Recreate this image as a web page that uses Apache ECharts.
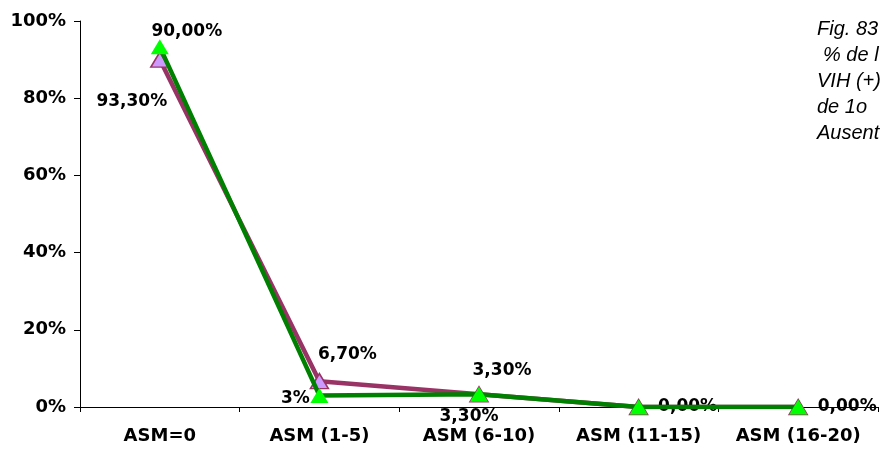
<!DOCTYPE html>
<html>
<head>
<meta charset="utf-8">
<script src="https://cdn.jsdelivr.net/npm/echarts@6/dist/echarts.min.js"></script>
<style>html,body{margin:0;padding:0;background:#fff}#c{width:881px;height:452px}</style>
</head>
<body>
<div id="c"></div>
<script>
// ---- data ----
var categories = ['ASM=0', 'ASM (1-5)', 'ASM (6-10)', 'ASM (11-15)', 'ASM (16-20)'];
var purpleValues = [90, 6.7, 3.3, 0, 0];
var greenValues = [93.3, 3, 3.3, 0, 0];
var purpleLabels = ['90,00%', '6,70%', '3,30%', '0,00%', '0,00%'];
var greenLabels = ['93,30%', '3%', '3,30%', '', ''];
var yTicks = [0, 20, 40, 60, 80, 100];
var titleLines = ['Fig. 83', '% de l', 'VIH (+)', 'de 1o', 'Ausent'];

// ---- styling ----
var purpleOffsets = [[27, -28], [28, -27], [23, -24], [49, 0], [49, 0]];
var greenOffsets = [[-28, 55], [-24, 3], [-10, 22], [49, 0], [49, 0]];
var titleX = [817, 823, 817, 817, 817];
var labelFont = { fontFamily: 'DejaVu Sans', fontWeight: 'bold', fontSize: 17, color: '#000' };

function buildData(values, labels, offsets) {
  return values.map(function (v, i) {
    return {
      value: v,
      label: {
        show: labels[i] !== '',
        position: 'inside',
        offset: offsets[i],
        formatter: labels[i]
      }
    };
  });
}

var chart = echarts.init(document.getElementById('c'), null, { renderer: 'canvas' });
chart.setOption({
  animation: false,
  backgroundColor: '#fff',
  grid: { left: 80, right: 3, top: 21, bottom: 45 },
  xAxis: {
    type: 'category',
    data: categories,
    boundaryGap: true,
    axisLine: { lineStyle: { color: '#000', width: 1 } },
    axisTick: { show: true, length: 5, inside: false, interval: 0, lineStyle: { color: '#000' } },
    axisLabel: { interval: 0, margin: 20, fontFamily: 'DejaVu Sans', fontWeight: 'bold', fontSize: 18, color: '#000' },
    splitLine: { show: false }
  },
  yAxis: {
    type: 'value',
    min: yTicks[0],
    max: yTicks[yTicks.length - 1],
    interval: yTicks[1] - yTicks[0],
    axisLine: { show: true, lineStyle: { color: '#000', width: 1 } },
    axisTick: { show: true, length: 6, lineStyle: { color: '#000' } },
    axisLabel: { margin: 14, fontFamily: 'DejaVu Sans', fontWeight: 'bold', fontSize: 18, color: '#000',
      formatter: function (v) { return v + '%'; } },
    splitLine: { show: false }
  },
  graphic: titleLines.map(function (t, i) {
    return {
      type: 'text',
      left: titleX[i],
      top: 19 + i * 26,
      style: { text: t, fontFamily: 'Liberation Sans', fontStyle: 'italic', fontSize: 20, fill: '#000' }
    };
  }),
  series: [
    {
      name: 'purple',
      type: 'line',
      data: buildData(purpleValues, purpleLabels, purpleOffsets),
      symbol: 'triangle',
      symbolSize: [18, 15],
      lineStyle: { color: '#993366', width: 4.5 },
      itemStyle: { color: '#CC99FF', borderColor: '#993366', borderWidth: 1.5 },
      label: labelFont,
      z: 2
    },
    {
      name: 'green',
      type: 'line',
      data: buildData(greenValues, greenLabels, greenOffsets),
      symbol: 'triangle',
      symbolSize: [18, 15],
      lineStyle: { color: '#008000', width: 4.5 },
      itemStyle: { color: '#00FF00', borderWidth: 0 },
      label: labelFont,
      z: 3
    }
  ]
});
</script>
</body>
</html>
